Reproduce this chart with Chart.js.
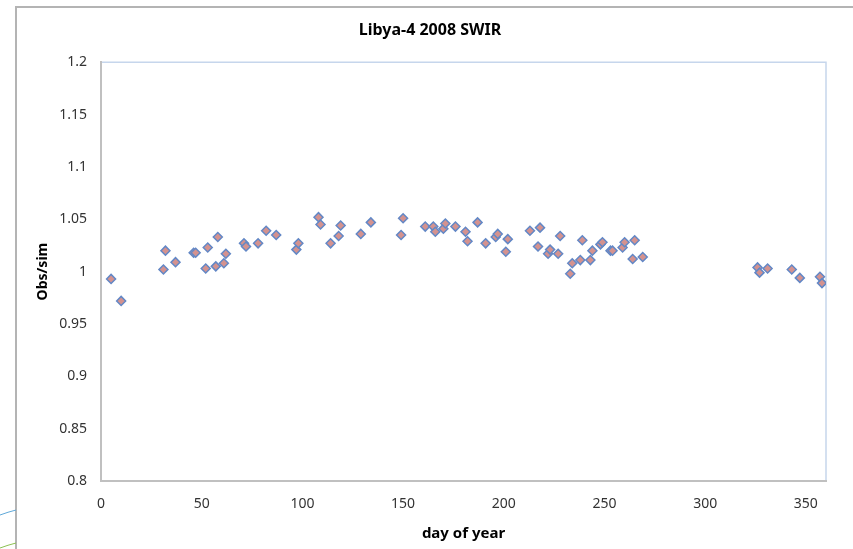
<!DOCTYPE html>
<html>
<head>
<meta charset="utf-8">
<script src="https://cdn.jsdelivr.net/npm/chart.js@4/dist/chart.umd.min.js"></script>
<style>
  html, body { margin:0; padding:0; background:#fff; }
  #wrap { width:853px; height:549px; }
</style>
</head>
<body>
<div id="wrap"><canvas id="c"></canvas></div>
<script>
// Libya-4 2008 SWIR, obs/sim ratio by day of year
const days = [5, 10, 31, 32, 37, 46, 47, 52, 53, 57, 58, 61, 62, 71, 72, 78, 82, 87, 97, 98,
  108, 109, 114, 118, 119, 129, 134, 149, 150, 161, 165, 166, 170, 171, 176, 181, 182, 187, 191, 196,
  197, 201, 202, 213, 217, 218, 222, 223, 227, 228, 233, 234, 238, 239, 243, 244, 248, 249, 253, 254,
  259, 260, 264, 265, 269, 326, 327, 331, 343, 347, 357, 358];
const ratios = [0.993, 0.972, 1.002, 1.020, 1.009, 1.018, 1.018, 1.003, 1.023, 1.005, 1.033, 1.008, 1.017, 1.027, 1.024, 1.027, 1.039, 1.035, 1.021, 1.027,
  1.052, 1.045, 1.027, 1.034, 1.044, 1.036, 1.047, 1.035, 1.051, 1.043, 1.043, 1.038, 1.041, 1.046, 1.043, 1.038, 1.029, 1.047, 1.027, 1.033,
  1.036, 1.019, 1.031, 1.039, 1.024, 1.042, 1.017, 1.021, 1.017, 1.034, 0.998, 1.008, 1.011, 1.030, 1.011, 1.020, 1.026, 1.028, 1.020, 1.020,
  1.023, 1.028, 1.012, 1.030, 1.014, 1.004, 0.999, 1.003, 1.002, 0.994, 0.995, 0.989];
const yTicks = [0.8, 0.85, 0.9, 0.95, 1, 1.05, 1.1, 1.15, 1.2];
const xTicks = [0, 50, 100, 150, 200, 250, 300, 350];

const points = days.map((d, i) => ({x: d, y: ratios[i]}));
const FONT = "'Noto Sans', 'Open Sans', sans-serif";

const frame = {
  id: 'frame',
  beforeDraw(chart){
    const ctx = chart.ctx, a = chart.chartArea;
    ctx.save();
    // outer chart border (top and left visible)
    ctx.strokeStyle = '#b4b4b4';
    ctx.lineWidth = 2;
    ctx.beginPath();
    ctx.moveTo(16, 549); ctx.lineTo(16, 7); ctx.lineTo(853, 7);
    ctx.stroke();
    // slide decoration peeking out at the bottom left
    ctx.lineWidth = 1;
    ctx.strokeStyle = '#5fa8d8';
    ctx.beginPath(); ctx.moveTo(0, 515); ctx.quadraticCurveTo(8, 512, 16, 510); ctx.stroke();
    ctx.strokeStyle = '#8cc152';
    ctx.beginPath(); ctx.moveTo(0, 548); ctx.quadraticCurveTo(8, 545, 16, 543); ctx.stroke();
    // plot area border top and right
    ctx.strokeStyle = '#c6d6ec';
    ctx.lineWidth = 1.5;
    ctx.beginPath();
    ctx.moveTo(a.left, a.top); ctx.lineTo(a.right, a.top); ctx.lineTo(a.right, a.bottom);
    ctx.stroke();
    ctx.restore();
  }
};

new Chart(document.getElementById('c'), {
  type: 'scatter',
  data: { datasets: [{
    label: 'Obs/sim',
    data: points,
    pointStyle: 'rectRot',
    pointRadius: 4.5,
    pointHoverRadius: 4.5,
    backgroundColor: '#d4928f',
    borderColor: '#6388c6',
    borderWidth: 1.5
  }]},
  options: {
    responsive: true,
    maintainAspectRatio: false,
    animation: false,
    layout: { padding: { left: 34, right: 27, top: 16, bottom: 6 } },
    plugins: {
      legend: { display: false },
      tooltip: { enabled: false },
      title: {
        display: true,
        text: 'Libya-4 2008 SWIR',
        color: '#000',
        font: { family: FONT, size: 16, weight: 'bold' },
        padding: { top: 5, bottom: 22 }
      }
    },
    scales: {
      x: {
        type: 'linear',
        min: 0, max: 360,
        afterBuildTicks: s => { s.ticks = xTicks.map(v => ({value: v})); },
        grid: { display: false, drawTicks: false },
        border: { color: '#c0c0c0', width: 2 },
        ticks: { color: '#333', font: { family: FONT, size: 14 }, padding: 15 },
        title: { display: true, text: 'day of year', color: '#000',
                 font: { family: FONT, size: 15, weight: 'bold' }, padding: { top: 2, bottom: 0 } },
        afterFit: s => { s.height = 62; }
      },
      y: {
        min: 0.8, max: 1.2,
        afterBuildTicks: s => { s.ticks = yTicks.map(v => ({value: v})); },
        grid: { display: false, drawTicks: false },
        border: { color: '#c0c0c0', width: 2 },
        ticks: { color: '#333', font: { family: FONT, size: 14 }, padding: 14,
                 callback: v => String(+v.toFixed(2)) },
        title: { display: true, text: 'Obs/sim', color: '#000',
                 font: { family: FONT, size: 14, weight: 'bold' }, padding: { top: 1, bottom: 0 } },
        afterFit: s => { s.width = 67; }
      }
    }
  },
  plugins: [frame]
});
</script>
</body>
</html>
